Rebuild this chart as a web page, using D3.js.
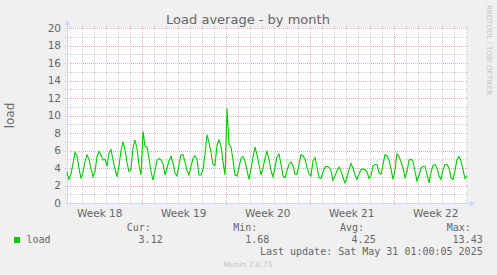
<!DOCTYPE html>
<html>
<head>
<meta charset="utf-8">
<script src="https://cdn.jsdelivr.net/npm/d3@7"></script>
<style>
  body { margin: 0; background: #f0f0f0; }
  svg { display: block; font-family: "DejaVu Sans", sans-serif; }
  .mono { font-family: "DejaVu Sans Mono", monospace; }
</style>
</head>
<body>
<svg id="chart" width="497" height="275"></svg>
<script>
// load average, one value every 4 hours
const loadValues = [
  3.5, 2.7, 3.3, 4.5, 5.8, 5.4, 4.0, 2.8, 3.5, 4.7, 5.5, 5.0, 3.9, 3.0, 3.6, 5.3, 5.9, 5.5, 4.9, 5.0,
  4.2, 5.7, 6.1, 4.9, 3.9, 3.0, 4.2, 6.0, 7.0, 6.1, 4.6, 3.6, 3.8, 6.3, 7.2, 6.2, 4.3, 3.2, 8.2, 6.5,
  6.4, 5.1, 3.6, 2.6, 3.7, 4.9, 5.1, 4.9, 4.5, 3.2, 4.0, 4.8, 5.3, 4.6, 3.4, 3.1, 4.4, 5.5, 5.5, 4.7,
  3.7, 3.2, 4.2, 5.1, 5.4, 5.0, 3.2, 3.2, 3.8, 5.6, 7.8, 6.9, 5.8, 4.4, 4.3, 6.6, 7.2, 6.5, 4.7, 3.2,
  10.8, 6.7, 6.4, 4.9, 3.2, 3.1, 4.1, 5.1, 5.3, 4.8, 3.7, 2.7, 3.9, 5.2, 6.4, 5.5, 4.4, 3.2, 4.0, 5.1,
  5.9, 5.0, 3.7, 3.0, 4.1, 5.3, 5.6, 4.4, 3.1, 2.9, 3.7, 4.4, 4.7, 4.3, 3.3, 3.3, 4.4, 5.5, 5.4, 5.0,
  4.1, 3.3, 3.1, 4.8, 5.2, 4.1, 2.9, 2.8, 3.5, 4.1, 4.2, 4.1, 3.7, 2.6, 3.1, 3.7, 4.1, 3.7, 2.9, 2.3,
  3.0, 3.8, 4.5, 4.0, 3.2, 2.7, 3.3, 3.8, 3.9, 3.8, 3.6, 2.8, 3.1, 4.2, 4.4, 4.4, 3.5, 3.3, 4.4, 5.5,
  5.4, 4.9, 3.9, 2.7, 3.8, 5.6, 5.3, 4.7, 4.0, 2.9, 3.6, 4.9, 5.0, 4.8, 3.6, 2.5, 3.2, 4.0, 4.2, 4.2,
  3.3, 2.3, 3.5, 4.3, 4.4, 4.0, 3.1, 2.7, 3.8, 4.4, 4.4, 4.0, 2.9, 2.7, 3.7, 5.0, 5.3, 4.8, 3.8, 2.8,
  3.1
];
const startTime = Date.UTC(2025, 3, 27, 18, 36);
const stepMs = 4 * 3600 * 1000;
const spanDays = 400 / 12;

const yMajor = d3.range(0, 21, 2);
const yMinor = d3.range(1, 20, 2);

const legendHeads = ["Cur:", "Min:", "Avg:", "Max:"];
const legendVals = ["3.12", "1.68", "4.25", "13.43"];
const seriesName = "load";
const titleText = "Load average - by month";
const lastUpdate = "Last update: Sat May 31 01:00:05 2025";

const plotLeft = 67, plotRight = 467, plotTop = 28, plotBottom = 203;

const points = loadValues.map((v, i) => ({ t: new Date(startTime + i * stepMs), v: v }));

const x = d3.scaleUtc()
    .domain([new Date(startTime), new Date(startTime + spanDays * 86400000)])
    .range([plotLeft, plotRight]);
const y = d3.scaleLinear().domain([0, 20]).range([plotBottom, plotTop]);

const svg = d3.select("#chart");
svg.append("rect").attr("width", 497).attr("height", 275).attr("fill", "#f0f0f0");
svg.append("rect").attr("x", plotLeft).attr("y", plotTop)
    .attr("width", plotRight - plotLeft).attr("height", plotBottom - plotTop).attr("fill", "#ffffff");

const grid = svg.append("g").attr("stroke-dasharray", "1,1");
const minorCol = "#d0d0d0", majorCol = "#e8b0b0";

// horizontal grid
grid.selectAll(".hmin").data(yMinor).enter().append("line")
    .attr("x1", plotLeft - 2).attr("x2", plotRight + 2)
    .attr("y1", d => Math.round(y(d)) + 0.5).attr("y2", d => Math.round(y(d)) + 0.5)
    .attr("stroke", minorCol);
grid.selectAll(".hmaj").data(yMajor).enter().append("line")
    .attr("x1", plotLeft - 2).attr("x2", plotRight + 2)
    .attr("y1", d => Math.round(y(d)) + 0.5).attr("y2", d => Math.round(y(d)) + 0.5)
    .attr("stroke", majorCol);

// vertical grid: days (not on week lines) and weeks
const weeks = d3.utcSunday.range(x.domain()[0], x.domain()[1]);
const days = d3.utcDay.range(x.domain()[0], x.domain()[1]).filter(d => d.getUTCDay() !== 0);
grid.selectAll(".vmin").data(days).enter().append("line")
    .attr("x1", d => Math.round(x(d)) + 0.5).attr("x2", d => Math.round(x(d)) + 0.5)
    .attr("y1", plotTop - 2).attr("y2", plotBottom)
    .attr("stroke", minorCol);
grid.selectAll(".vmaj").data(weeks).enter().append("line")
    .attr("x1", d => Math.round(x(d)) + 0.5).attr("x2", d => Math.round(x(d)) + 0.5)
    .attr("y1", plotTop - 2).attr("y2", plotBottom + 3)
    .attr("stroke", majorCol);

// axes
const axisCol = "#cfd6f8";
svg.append("line").attr("x1", plotLeft + 0.5).attr("x2", plotLeft + 0.5)
    .attr("y1", plotBottom + 2).attr("y2", plotTop - 4)
    .attr("stroke", axisCol);
svg.append("path")
    .attr("d", `M${plotLeft - 2.5},${plotTop - 3} L${plotLeft + 3.5},${plotTop - 3} L${plotLeft + 0.5},${plotTop - 8} Z`)
    .attr("fill", axisCol);
svg.append("line").attr("x1", plotLeft - 2).attr("x2", plotRight + 4)
    .attr("y1", plotBottom + 0.5).attr("y2", plotBottom + 0.5)
    .attr("stroke", axisCol);
svg.append("path")
    .attr("d", `M${plotRight + 3},${plotBottom - 2.5} L${plotRight + 3},${plotBottom + 3.5} L${plotRight + 8},${plotBottom + 0.5} Z`)
    .attr("fill", axisCol);

// y labels
svg.selectAll(".ylab").data(yMajor).enter().append("text")
    .attr("x", 61).attr("y", d => y(d)).attr("dy", "0.36em")
    .attr("text-anchor", "end").attr("font-size", 10.5).attr("fill", "#666")
    .text(d => d);

// week labels
const weekFmt = d3.utcFormat("%V");
const weekMids = d3.utcSunday.range(d3.utcSunday.offset(x.domain()[0], -1), x.domain()[1])
    .map(d => new Date(+d + 3.5 * 86400000))
    .filter(d => x(d) > plotLeft && x(d) < plotRight);
svg.selectAll(".xlab").data(weekMids).enter().append("text")
    .attr("x", d => x(d)).attr("y", 217)
    .attr("text-anchor", "middle").attr("font-size", 10.5).attr("fill", "#666")
    .text(d => "Week " + (+weekFmt(d)));

// the series
const line = d3.line().x(d => x(d.t)).y(d => y(d.v));
svg.append("path").datum(points)
    .attr("d", line).attr("fill", "none")
    .attr("stroke", "#00cc00").attr("stroke-width", 1.1);

// titles
svg.append("text").attr("x", 248).attr("y", 24).attr("text-anchor", "middle")
    .attr("font-size", 13).attr("fill", "#666").text(titleText);
svg.append("text").attr("transform", "translate(14,115.5) rotate(-90)")
    .attr("text-anchor", "middle").attr("font-size", 12).attr("fill", "#666").text(seriesName);
svg.append("text").attr("transform", "translate(487,5) rotate(90)")
    .attr("font-size", 7).attr("fill", "#c4c4c4").text("RRDTOOL / TOBI OETIKER");

// legend
const headX = [126.7, 233.3, 340, 446.7];
const valX = [162.7, 269.3, 375.7, 482.7];
svg.selectAll(".lh").data(legendHeads).enter().append("text")
    .attr("class", "mono").attr("x", (d, i) => headX[i]).attr("y", 231)
    .attr("font-size", 10).attr("fill", "#666").text(d => d);
svg.selectAll(".lv").data(legendVals).enter().append("text")
    .attr("class", "mono").attr("x", (d, i) => valX[i]).attr("y", 243)
    .attr("text-anchor", "end").attr("font-size", 10).attr("fill", "#666").text(d => d);
svg.append("rect").attr("x", 14).attr("y", 237).attr("width", 6).attr("height", 6).attr("fill", "#00cc00");
svg.append("text").attr("class", "mono").attr("x", 26.5).attr("y", 243)
    .attr("font-size", 10).attr("fill", "#666").text(seriesName);
svg.append("text").attr("class", "mono").attr("x", 482.7).attr("y", 255)
    .attr("text-anchor", "end").attr("font-size", 10).attr("fill", "#666").text(lastUpdate);
svg.append("text").attr("x", 248).attr("y", 267).attr("text-anchor", "middle")
    .attr("font-size", 7.5).attr("fill", "#c4c4c4").text("Munin 2.0.75");
</script>
</body>
</html>
